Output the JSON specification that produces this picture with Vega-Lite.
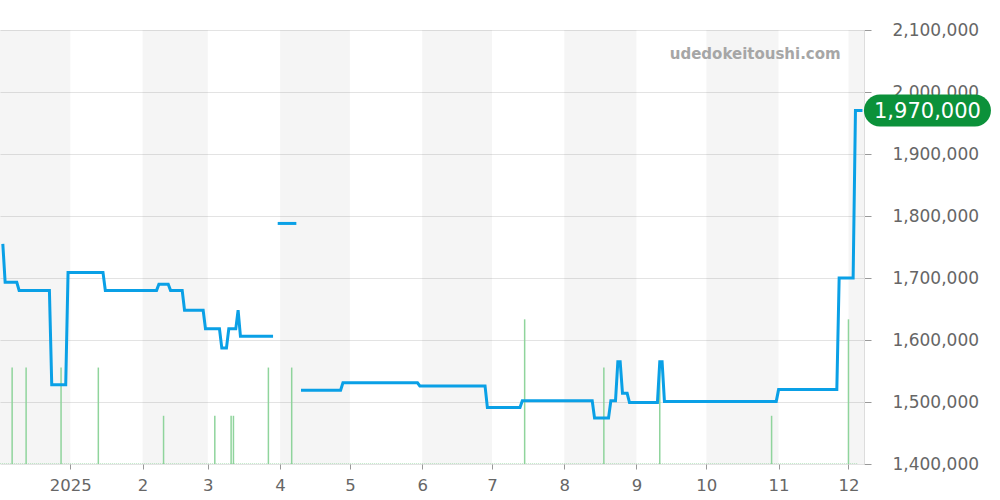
{
  "$schema": "https://vega.github.io/schema/vega-lite/v6.json",
  "width": 864,
  "height": 434,
  "autosize": {"type": "none"},
  "padding": {"left": 0, "top": 30, "right": 136, "bottom": 36},
  "background": "white",
  "config": {"font": "DejaVu Sans", "view": {"stroke": null}},
  "layer": [
    {
      "data": {"values": [
        {"start": "2024-12-01T00:00:00", "end": "2025-01-01T00:00:00"},
        {"start": "2025-02-01T00:00:00", "end": "2025-03-01T00:00:00"},
        {"start": "2025-04-01T00:00:00", "end": "2025-05-01T00:00:00"},
        {"start": "2025-06-01T00:00:00", "end": "2025-07-01T00:00:00"},
        {"start": "2025-08-01T00:00:00", "end": "2025-09-01T00:00:00"},
        {"start": "2025-10-01T00:00:00", "end": "2025-11-01T00:00:00"},
        {"start": "2025-12-01T00:00:00", "end": "2026-01-01T00:00:00"}
      ]},
      "mark": {"type": "rect", "color": "#000000", "opacity": 0.04, "clip": true},
      "encoding": {
        "x": {
          "field": "start", "type": "temporal",
          "scale": {"domain": [{"year": 2024, "month": 12, "date": 1, "hours": 19}, {"year": 2025, "month": 12, "date": 7, "hours": 16}]},
          "axis": {
            "orient": "bottom", "title": null,
            "tickCount": {"interval": "month", "step": 1},
            "labelExpr": "month(datum.value) === 0 ? timeFormat(datum.value, '%Y') : timeFormat(datum.value, '%-m')",
            "grid": false, "domain": false,
            "tickSize": 5, "tickColor": "#999999",
            "labelFontSize": 16.5, "labelColor": "#666666", "labelPadding": 8
          }
        },
        "x2": {"field": "end"}
      }
    },
    {
      "layer": [
        {
          "data": {"values": [
            {"date": "2024-12-07T00:00:00", "count": 2},
            {"date": "2024-12-13T00:00:00", "count": 2},
            {"date": "2024-12-28T00:00:00", "count": 2},
            {"date": "2025-01-13T00:00:00", "count": 2},
            {"date": "2025-02-10T00:00:00", "count": 1},
            {"date": "2025-03-04T00:00:00", "count": 1},
            {"date": "2025-03-11T00:00:00", "count": 1},
            {"date": "2025-03-12T00:00:00", "count": 1},
            {"date": "2025-03-27T00:00:00", "count": 2},
            {"date": "2025-04-06T00:00:00", "count": 2},
            {"date": "2025-07-15T00:00:00", "count": 3},
            {"date": "2025-08-18T00:00:00", "count": 2},
            {"date": "2025-09-11T00:00:00", "count": 2},
            {"date": "2025-10-29T00:00:00", "count": 1},
            {"date": "2025-12-01T00:00:00", "count": 3}
          ]},
          "mark": {"type": "rule", "color": "#8fd49c", "strokeWidth": 1.5},
          "encoding": {
            "x": {"field": "date", "type": "temporal", "title": null},
            "y": {"field": "count", "type": "quantitative", "scale": {"domain": [0, 9]}, "axis": null},
            "y2": {"datum": 0}
          }
        },
        {
          "data": {"values": [{}]},
          "mark": {"type": "rule", "color": "#7ccf8c", "strokeDash": [1, 1], "strokeWidth": 1, "clip": true},
          "encoding": {
            "x": {"datum": {"year": 2024, "month": 12, "date": 1}, "type": "temporal", "title": null},
            "x2": {"datum": {"year": 2025, "month": 12, "date": 5}},
            "y": {"datum": 0, "type": "quantitative"}
          }
        }
      ]
    },
    {
      "layer": [
        {
          "data": {"values": [
            {"date": "2024-12-03T00:00:00", "price": 1755000, "seg": 1},
            {"date": "2024-12-04T00:00:00", "price": 1693000, "seg": 1},
            {"date": "2024-12-09T00:00:00", "price": 1693000, "seg": 1},
            {"date": "2024-12-10T00:00:00", "price": 1680000, "seg": 1},
            {"date": "2024-12-23T00:00:00", "price": 1680000, "seg": 1},
            {"date": "2024-12-24T00:00:00", "price": 1528000, "seg": 1},
            {"date": "2024-12-30T00:00:00", "price": 1528000, "seg": 1},
            {"date": "2024-12-31T00:00:00", "price": 1709000, "seg": 1},
            {"date": "2025-01-15T00:00:00", "price": 1709000, "seg": 1},
            {"date": "2025-01-16T00:00:00", "price": 1680000, "seg": 1},
            {"date": "2025-02-07T00:00:00", "price": 1680000, "seg": 1},
            {"date": "2025-02-08T00:00:00", "price": 1690000, "seg": 1},
            {"date": "2025-02-12T00:00:00", "price": 1690000, "seg": 1},
            {"date": "2025-02-13T00:00:00", "price": 1680000, "seg": 1},
            {"date": "2025-02-18T00:00:00", "price": 1680000, "seg": 1},
            {"date": "2025-02-19T00:00:00", "price": 1648000, "seg": 1},
            {"date": "2025-02-27T00:00:00", "price": 1648000, "seg": 1},
            {"date": "2025-02-28T00:00:00", "price": 1618000, "seg": 1},
            {"date": "2025-03-06T00:00:00", "price": 1618000, "seg": 1},
            {"date": "2025-03-07T00:00:00", "price": 1587000, "seg": 1},
            {"date": "2025-03-09T00:00:00", "price": 1587000, "seg": 1},
            {"date": "2025-03-10T00:00:00", "price": 1618000, "seg": 1},
            {"date": "2025-03-13T00:00:00", "price": 1618000, "seg": 1},
            {"date": "2025-03-14T00:00:00", "price": 1648000, "seg": 1},
            {"date": "2025-03-15T00:00:00", "price": 1606000, "seg": 1},
            {"date": "2025-03-29T00:00:00", "price": 1606000, "seg": 1},
            {"date": "2025-03-31T00:00:00", "price": 1788000, "seg": 2},
            {"date": "2025-04-08T00:00:00", "price": 1788000, "seg": 2},
            {"date": "2025-04-10T00:00:00", "price": 1519000, "seg": 3},
            {"date": "2025-04-27T00:00:00", "price": 1519000, "seg": 3},
            {"date": "2025-04-28T00:00:00", "price": 1531000, "seg": 3},
            {"date": "2025-05-30T00:00:00", "price": 1531000, "seg": 3},
            {"date": "2025-05-31T00:00:00", "price": 1526000, "seg": 3},
            {"date": "2025-06-28T00:00:00", "price": 1526000, "seg": 3},
            {"date": "2025-06-29T00:00:00", "price": 1491000, "seg": 3},
            {"date": "2025-07-13T00:00:00", "price": 1491000, "seg": 3},
            {"date": "2025-07-14T00:00:00", "price": 1502000, "seg": 3},
            {"date": "2025-08-13T00:00:00", "price": 1502000, "seg": 3},
            {"date": "2025-08-14T00:00:00", "price": 1474000, "seg": 3},
            {"date": "2025-08-20T00:00:00", "price": 1474000, "seg": 3},
            {"date": "2025-08-21T00:00:00", "price": 1502000, "seg": 3},
            {"date": "2025-08-23T00:00:00", "price": 1502000, "seg": 3},
            {"date": "2025-08-24T00:00:00", "price": 1565000, "seg": 3},
            {"date": "2025-08-25T00:00:00", "price": 1565000, "seg": 3},
            {"date": "2025-08-26T00:00:00", "price": 1514000, "seg": 3},
            {"date": "2025-08-28T00:00:00", "price": 1514000, "seg": 3},
            {"date": "2025-08-29T00:00:00", "price": 1499000, "seg": 3},
            {"date": "2025-09-10T00:00:00", "price": 1499000, "seg": 3},
            {"date": "2025-09-11T00:00:00", "price": 1565000, "seg": 3},
            {"date": "2025-09-12T00:00:00", "price": 1565000, "seg": 3},
            {"date": "2025-09-13T00:00:00", "price": 1501000, "seg": 3},
            {"date": "2025-10-31T00:00:00", "price": 1501000, "seg": 3},
            {"date": "2025-11-01T00:00:00", "price": 1520000, "seg": 3},
            {"date": "2025-11-26T00:00:00", "price": 1520000, "seg": 3},
            {"date": "2025-11-27T00:00:00", "price": 1700000, "seg": 3},
            {"date": "2025-12-03T00:00:00", "price": 1700000, "seg": 3},
            {"date": "2025-12-04T00:00:00", "price": 1970000, "seg": 3},
            {"date": "2025-12-07T00:00:00", "price": 1970000, "seg": 3}
          ]},
          "mark": {"type": "line", "color": "#0aa0e6", "strokeWidth": 3, "clip": true},
          "encoding": {
            "x": {"field": "date", "type": "temporal", "title": null},
            "y": {
              "field": "price", "type": "quantitative",
              "scale": {"domain": [1400000, 2100000], "nice": false, "zero": false},
              "axis": {
                "orient": "right", "title": null,
                "values": [1400000, 1500000, 1600000, 1700000, 1800000, 1900000, 2000000, 2100000],
                "labelExpr": "format(datum.value, ',')",
                "grid": true, "gridColor": "#e3e3e3",
                "domainColor": "#dddddd",
                "tickSize": 7, "tickColor": "#999999",
                "labelFontSize": 17, "labelColor": "#666666",
                "labelPadding": 21, "labelAlign": "left"
              }
            },
            "detail": {"field": "seg"}
          }
        },
        {
          "data": {"values": [{"date": "2025-12-07T00:00:00", "price": 1970000}]},
          "mark": {
            "type": "point",
            "shape": "M -0.748 -0.252 L 0.748 -0.252 A 0.252 0.252 0 0 1 0.748 0.252 L -0.748 0.252 A 0.252 0.252 0 0 1 -0.748 -0.252 Z",
            "size": 16129, "filled": true, "color": "#0b913a", "opacity": 1, "xOffset": 65
          },
          "encoding": {
            "x": {"field": "date", "type": "temporal", "title": null},
            "y": {"field": "price", "type": "quantitative", "title": null}
          }
        },
        {
          "data": {"values": [{"date": "2025-12-07T00:00:00", "price": 1970000}]},
          "mark": {"type": "text", "color": "#ffffff", "fontSize": 21, "align": "center", "baseline": "middle", "xOffset": 65, "yOffset": 1},
          "encoding": {
            "x": {"field": "date", "type": "temporal", "title": null},
            "y": {"field": "price", "type": "quantitative", "title": null},
            "text": {"field": "price", "type": "quantitative", "format": ","}
          }
        },
        {
          "data": {"values": [{"label": "udedokeitoushi.com"}]},
          "mark": {"type": "text", "color": "#a6a6a6", "fontSize": 15, "fontWeight": "bold", "align": "right", "baseline": "alphabetic"},
          "encoding": {
            "x": {"datum": {"year": 2025, "month": 11, "date": 27, "hours": 16}, "type": "temporal", "title": null},
            "y": {"datum": 2054000, "type": "quantitative", "title": null},
            "text": {"field": "label", "type": "nominal"}
          }
        }
      ]
    }
  ],
  "resolve": {"scale": {"y": "independent"}}
}
